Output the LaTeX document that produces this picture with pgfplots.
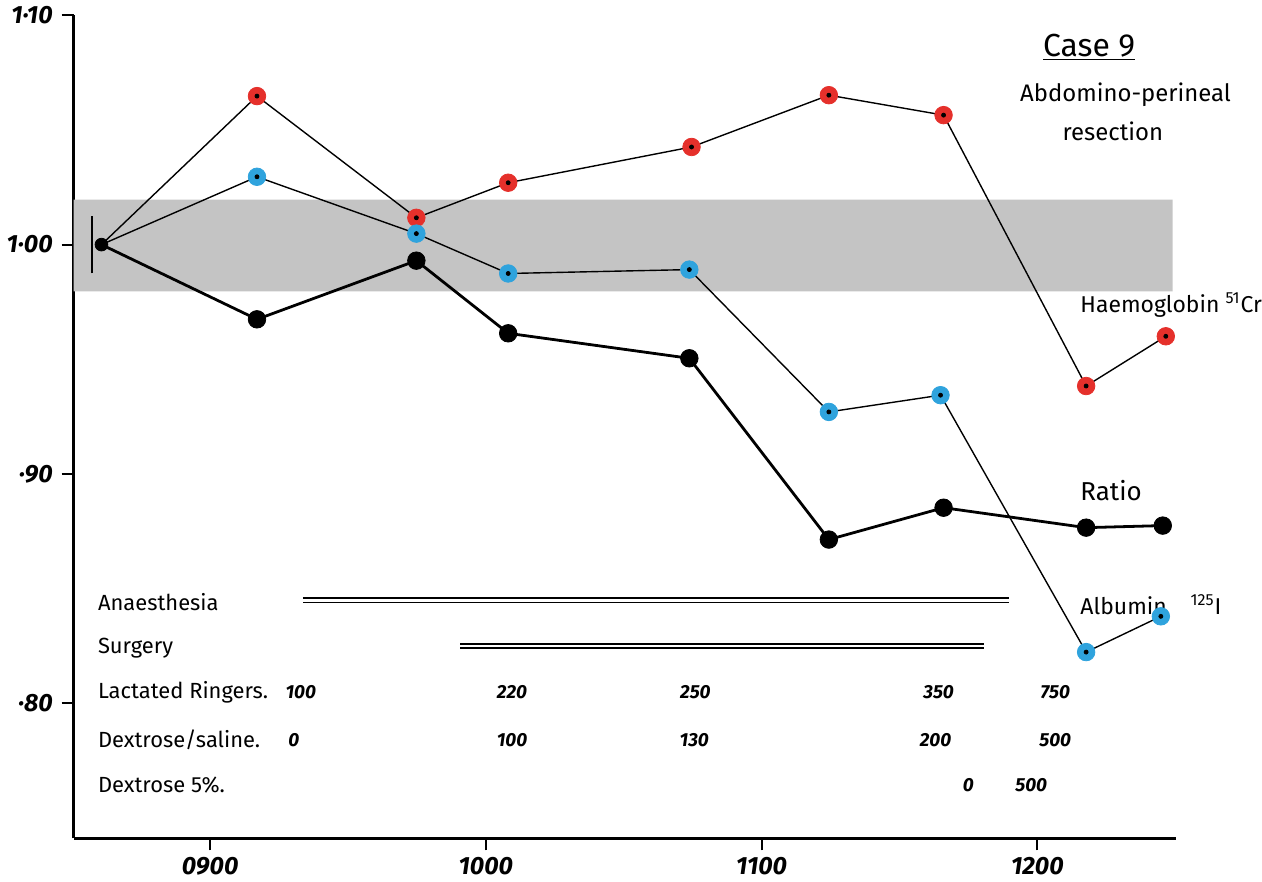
\documentclass[border=0pt]{standalone}
\usepackage{pgfplots}
\pgfplotsset{compat=1.18}
\usepackage{pgfplotstable}
\usepackage{fontspec}
\setmainfont{Fira Sans}

\definecolor{hbred}{HTML}{E5302B}
\definecolor{albblue}{HTML}{2FA3DD}

% x = time of day in hours, y = value relative to the pre-operative sample
\pgfplotstableread{
t     v
8.606 1.000
9.170 1.0648
9.748 1.0117
10.081 1.0270
10.746 1.0426
11.244 1.0652
11.660 1.0565
12.177 0.9383
12.466 0.9600
}\haemo

\pgfplotstableread{
t     v
8.606 1.000
9.170 1.0296
9.748 1.0048
10.081 0.9874
10.738 0.9891
11.244 0.9270
11.649 0.9343
12.177 0.8222
12.448 0.8378
}\albumin

\pgfplotstableread{
t     v
8.606 1.000
9.170 0.9674
9.748 0.9930
10.081 0.9613
10.738 0.9504
11.244 0.8713
11.660 0.8852
12.177 0.8765
12.455 0.8774
}\ratio

\begin{document}
\begin{tikzpicture}
\begin{axis}[
    scale only axis,
    width=553pt, height=413.4pt,
    xmin=8.505, xmax=12.502,
    ymin=0.7409, ymax=1.1004,
    axis x line*=bottom, axis y line*=left,
    axis line style={-, line width=1.3pt},
    xtick={9,10,11,12},
    xticklabels={0900,1000,1100,1200},
    ytick={0.8,0.9,1.0,1.1},
    yticklabels={·80,·90,1·00,1·10},
    tick align=outside,
    major tick length=6pt,
    tick style={black, line width=1pt},
    xticklabel style={font=\fontsize{12.5}{14}\selectfont\itshape\bfseries},
    yticklabel style={font=\fontsize{12.5}{14}\selectfont\itshape\bfseries, xshift=-1pt},
    clip=false,
]
% normal range band
\addplot[fill=black!23, draw=none] coordinates {
    (8.505,0.9796) (12.491,0.9796) (12.491,1.0196) (8.505,1.0196) (8.505,0.9796)};

% anaesthesia / surgery bars
\addplot[black, double, double distance=1.3pt, line width=0.8pt] coordinates {(9.336,0.8448) (11.898,0.8448)};
\addplot[black, double, double distance=1.3pt, line width=0.8pt] coordinates {(9.907,0.8248) (11.805,0.8248)};

% lines
\addplot[black, line width=0.7pt] table[x=t, y=v] {\haemo};
\addplot[black, line width=0.7pt] table[x=t, y=v] {\albumin};
\addplot[black, line width=1.4pt] table[x=t, y=v] {\ratio};

% markers
\addplot[only marks, mark=*, mark size=4.4pt, mark options={fill=hbred, draw=hbred},
    skip coords between index={0}{1}] table[x=t, y=v] {\haemo};
\addplot[only marks, mark=*, mark size=4.4pt, mark options={fill=albblue, draw=albblue},
    skip coords between index={0}{1}] table[x=t, y=v] {\albumin};
\addplot[only marks, mark=*, mark size=1pt, black,
    skip coords between index={0}{1}] table[x=t, y=v] {\haemo};
\addplot[only marks, mark=*, mark size=1pt, black,
    skip coords between index={0}{1}] table[x=t, y=v] {\albumin};
\addplot[only marks, mark=*, mark size=4.4pt, black,
    skip coords between index={0}{1}] table[x=t, y=v] {\ratio};
\addplot[only marks, mark=*, mark size=3.2pt, black] coordinates {(8.606,1.000)};

% small bracket at the start point
\draw[line width=1pt] (axis cs:8.572,0.9875) -- (axis cs:8.572,1.0125);

% titles and series labels
\node[font=\fontsize{16}{18}\selectfont] at (axis cs:12.188,1.0861) {\underline{Case 9}};
\node[font=\fontsize{12}{14}\selectfont] at (axis cs:12.32,1.0652) {Abdomino-perineal};
\node[font=\fontsize{12}{14}\selectfont] at (axis cs:12.274,1.0495) {resection};
\node[font=\fontsize{11.5}{13}\selectfont, anchor=west, inner sep=0pt] at (axis cs:12.155,0.9735) {Haemoglobin \textsuperscript{51}Cr};
\node[font=\fontsize{13}{15}\selectfont, anchor=west, inner sep=0pt] at (axis cs:12.155,0.8926) {Ratio};
\node[font=\fontsize{11.5}{13}\selectfont, anchor=west, inner sep=0pt] at (axis cs:12.155,0.8430) {Albumin\hspace{12pt}\textsuperscript{125}I};

% fluid table
\begin{scope}[every node/.style={font=\fontsize{11}{13}\selectfont, anchor=west, inner sep=0pt}]
\node at (axis cs:8.592,0.8439) {Anaesthesia};
\node at (axis cs:8.592,0.8239) {Surgery};
\node at (axis cs:8.592,0.8048) {Lactated Ringers.};
\node at (axis cs:8.592,0.7839) {Dextrose/saline.};
\node at (axis cs:8.592,0.7643) {Dextrose 5\%.};
\end{scope}
\begin{scope}[every node/.style={font=\fontsize{9.5}{11}\selectfont\itshape\bfseries, inner sep=0pt}]
\node at (axis cs:9.329,0.8048) {100};
\node at (axis cs:10.095,0.8048) {220};
\node at (axis cs:10.760,0.8048) {250};
\node at (axis cs:11.642,0.8048) {350};
\node at (axis cs:12.065,0.8048) {750};
\node at (axis cs:9.304,0.7839) {0};
\node at (axis cs:10.095,0.7839) {100};
\node at (axis cs:10.756,0.7839) {130};
\node at (axis cs:11.631,0.7839) {200};
\node at (axis cs:12.065,0.7839) {500};
\node at (axis cs:11.750,0.7643) {0};
\node at (axis cs:11.978,0.7643) {500};
\end{scope}

% page frame matching the reference proportions
\path (rel axis cs:0,0) ++(-36pt,-20.5pt) rectangle ++(631pt,440pt);
\end{axis}
\end{tikzpicture}
\end{document}
